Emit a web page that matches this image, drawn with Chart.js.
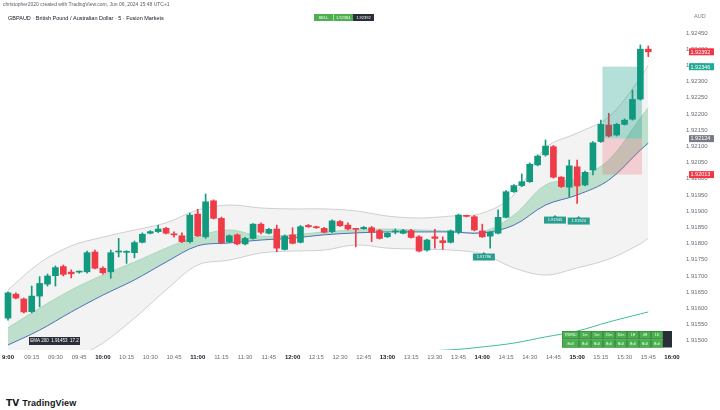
<!DOCTYPE html>
<html><head><meta charset="utf-8">
<script src="https://cdn.jsdelivr.net/npm/chart.js@4.4.1/dist/chart.umd.min.js"></script>
<style>
html,body{margin:0;padding:0;background:#fff;width:720px;height:410px;overflow:hidden;font-family:"Liberation Sans",Arial,sans-serif;}
#wrap{position:absolute;left:0;top:0;width:720px;height:390px;}
#footer{position:absolute;left:0;top:390px;width:720px;height:20px;background:#fff;}
#logo{position:absolute;left:6px;top:8px;font:bold 9px "Liberation Sans",Arial,sans-serif;color:#131722;letter-spacing:0.1px;}
#logo b{font:900 9px "DejaVu Sans",sans-serif;margin-right:3px;}
</style></head><body>
<div id="wrap"><canvas id="c" width="720" height="390"></canvas></div>
<div id="footer"><div id="logo"><b>TV</b>TradingView</div></div>
<script>
// ---- data ----
const timeLabels = ['9:00','09:15','09:30','09:45','10:00','10:15','10:30','10:45','11:00','11:15','11:30','11:45','12:00','12:15','12:30','12:45','13:00','13:15','13:30','13:45','14:00','14:15','14:30','14:45','15:00','15:15','15:30','15:45','16:00'];
const priceTicks = [1.92450,1.92400,1.92350,1.92300,1.92250,1.92200,1.92150,1.92100,1.92050,1.92000,1.91950,1.91900,1.91850,1.91800,1.91750,1.91700,1.91650,1.91600,1.91550,1.91500];

const opens = [1.91570,1.91644,1.91629,1.91590,1.91638,1.91675,1.91701,1.91729,1.91712,1.91712,
1.91713,1.91774,1.91724,1.91713,1.91774,1.91773,1.91772,1.91804,1.91832,1.91837,
1.91847,1.91830,1.91824,1.91806,1.91891,1.91821,1.91932,1.91878,1.91806,1.91827,
1.91799,1.91816,1.91860,1.91832,1.91845,1.91782,1.91827,1.91804,1.91856,1.91852,
1.91847,1.91837,1.91868,1.91857,1.91845,1.91846,1.91849,1.91840,1.91821,1.91836,
1.91832,1.91840,1.91821,1.91780,1.91821,1.91809,1.91804,1.91837,1.91885,1.91883,
1.91839,1.91823,1.91832,1.91881,1.91960,1.91979,1.91991,1.92043,1.92074,1.92099,
1.92005,1.91974,1.92037,1.91981,1.92027,1.92115,1.92166,1.92135,1.92168,1.92184,
1.92246,1.92400];
const highs = [1.91651,1.91648,1.91632,1.91669,1.91698,1.91706,1.91731,1.91734,1.91719,1.91715,
1.91777,1.91780,1.91728,1.91780,1.91816,1.91778,1.91808,1.91833,1.91840,1.91857,
1.91850,1.91836,1.91833,1.91894,1.91906,1.91953,1.91935,1.91882,1.91827,1.91830,
1.91819,1.91862,1.91864,1.91847,1.91857,1.91827,1.91849,1.91856,1.91859,1.91854,
1.91850,1.91873,1.91871,1.91864,1.91847,1.91853,1.91853,1.91844,1.91834,1.91845,
1.91844,1.91844,1.91825,1.91814,1.91844,1.91821,1.91842,1.91891,1.91888,1.91887,
1.91860,1.91837,1.91904,1.91964,1.91982,1.92015,1.92049,1.92074,1.92120,1.92103,
1.92007,1.92058,1.92058,1.92024,1.92115,1.92181,1.92202,1.92171,1.92185,1.92274,
1.92413,1.92410];
const lows = [1.91564,1.91629,1.91586,1.91586,1.91605,1.91669,1.91669,1.91700,1.91694,1.91709,
1.91709,1.91722,1.91706,1.91693,1.91759,1.91739,1.91756,1.91802,1.91830,1.91834,
1.91830,1.91820,1.91803,1.91802,1.91822,1.91816,1.91876,1.91800,1.91803,1.91796,
1.91796,1.91814,1.91830,1.91830,1.91775,1.91780,1.91799,1.91802,1.91850,1.91847,
1.91833,1.91834,1.91853,1.91842,1.91790,1.91844,1.91806,1.91814,1.91819,1.91830,
1.91830,1.91817,1.91774,1.91777,1.91786,1.91782,1.91802,1.91830,1.91882,1.91839,
1.91819,1.91786,1.91830,1.91879,1.91958,1.91976,1.91989,1.92040,1.92070,1.92002,
1.91973,1.91945,1.91924,1.91978,1.92012,1.92112,1.92129,1.92132,1.92166,1.92181,
1.92243,1.92377];
const closes = [1.91648,1.91632,1.91589,1.91638,1.91677,1.91700,1.91726,1.91705,1.91707,1.91714,
1.91772,1.91724,1.91710,1.91772,1.91776,1.91774,1.91803,1.91829,1.91837,1.91845,
1.91832,1.91827,1.91806,1.91888,1.91824,1.91929,1.91878,1.91803,1.91824,1.91799,
1.91816,1.91860,1.91835,1.91844,1.91786,1.91823,1.91801,1.91852,1.91852,1.91849,
1.91835,1.91870,1.91855,1.91845,1.91844,1.91850,1.91835,1.91816,1.91832,1.91837,
1.91840,1.91819,1.91777,1.91811,1.91816,1.91803,1.91839,1.91888,1.91884,1.91842,
1.91821,1.91835,1.91881,1.91960,1.91979,1.91991,1.92045,1.92070,1.92101,1.92005,
1.91976,1.92040,1.91978,1.92020,1.92111,1.92168,1.92132,1.92168,1.92181,1.92245,
1.92400,1.92392];

// indicator readings (bar index -> price)
const indIdx  = [0,4,8,12,16,20,24,28,32,36,40,44,48,52,56,60,64,68,72,76,80,81];
const bbUpper = [1.91657,1.91740,1.91793,1.91820,1.91842,1.91864,1.91904,1.91919,1.91910,1.91907,1.91907,1.91901,1.91885,1.91879,1.91885,1.91894,1.91950,1.92095,1.92141,1.92191,1.92311,1.92351];
const bbLower = [1.91317,1.91394,1.91441,1.91493,1.91570,1.91657,1.91734,1.91749,1.91771,1.91777,1.91780,1.91796,1.91786,1.91783,1.91780,1.91768,1.91725,1.91703,1.91725,1.91752,1.91799,1.91817];
const emaFast = [1.91540,1.91601,1.91657,1.91703,1.91743,1.91786,1.91823,1.91842,1.91823,1.91827,1.91836,1.91842,1.91845,1.91842,1.91839,1.91836,1.91888,1.91981,1.92002,1.92058,1.92188,1.92219];
const emaSlow = [1.91487,1.91533,1.91589,1.91641,1.91688,1.91743,1.91793,1.91802,1.91811,1.91817,1.91827,1.91833,1.91836,1.91836,1.91836,1.91833,1.91857,1.91919,1.91950,1.91996,1.92089,1.92110];
const emaLongIdx = [44,49,56,60,64,68,72,76,80,81];
const emaLong    = [1.91453,1.91465,1.91472,1.91481,1.91493,1.91512,1.91530,1.91558,1.91583,1.91589];

// long position tool
const posBars   = [75.2, 80.2];
const posPrices = [1.92346, 1.92124, 1.92013]; // target, entry, stop
// price-scale tags
const tagPrices = [1.92392, 1.92346, 1.92124, 1.92013];
const tagColors = ['#f23645','#22ab94','#787b86','#f23645'];
// small labels under candles
const noteBars   = [60.2, 69.2, 72.2];
const notePrices = [1.91774, 1.91888, 1.91885];
const noteTexts  = ['1.91786','1.91945','1.91924'];
// table bottom right
const tableHead = ['TREND','1m','5m','15m','30m','1H','4H','1D'];
const tableRow  = ['Bull','Bull','Bull','Bull','Bull','Bull','Bull','Bull'];

const GREEN = '#129a7f', RED = '#ef3a48';
const candleColors = opens.map((o,i)=> closes[i] >= o ? GREEN : RED);
const pts = (idx, arr) => arr.map((v,i)=>({x:idx[i], y:v}));

const overlay = {
  id:'overlay',
  afterDatasetsDraw(chart){
    const c = chart.ctx, xs = chart.scales.x, ys = chart.scales.y, a = chart.chartArea;
    c.save();
    c.beginPath(); c.rect(a.left, a.top, a.right-a.left, a.bottom-a.top); c.clip();
    // position tool
    const x1 = xs.getPixelForValue(posBars[0]), x2 = xs.getPixelForValue(posBars[1]);
    const yT = ys.getPixelForValue(posPrices[0]), yE = ys.getPixelForValue(posPrices[1]), yS = ys.getPixelForValue(posPrices[2]);
    c.fillStyle = 'rgba(8,153,129,0.30)'; c.fillRect(x1, yT, x2-x1, yE-yT);
    c.fillStyle = 'rgba(242,54,69,0.20)'; c.fillRect(x1, yE, x2-x1, yS-yE);
    // note labels
    c.font = '4px "Liberation Sans", Arial, sans-serif';
    c.textAlign = 'center'; c.textBaseline = 'middle';
    noteBars.forEach((b,i)=>{
      const x = xs.getPixelForValue(b), y = ys.getPixelForValue(notePrices[i]);
      c.fillStyle = '#2a9d8f';
      c.beginPath(); c.moveTo(x-2,y+2); c.lineTo(x,y); c.lineTo(x+2,y+2); c.fill();
      c.fillRect(x-11, y+1.5, 22, 7);
      c.fillStyle = '#fff'; c.fillText(noteTexts[i], x, y+5);
    });
    c.restore();
    // dark label bottom-left
    c.save();
    c.fillStyle = '#2a2e39'; c.fillRect(29, 337, 51, 8);
    c.fillStyle = '#fff'; c.font = '4.5px "Liberation Sans", Arial, sans-serif';
    c.textAlign='center'; c.textBaseline='middle';
    c.fillText('EMA 200  1.91453  17.2', 54.5, 341.2);
    // table
    const colW = [17,12,12,12,12,12,12,12];
    let x = 562;
    colW.forEach((w,i)=>{
      c.fillStyle = '#4caf50'; c.fillRect(x, 331, w, 8); c.fillRect(x, 339.5, w, 8);
      c.strokeStyle = '#2e7d32'; c.lineWidth = 0.5;
      c.strokeRect(x+0.25, 331.25, w-0.5, 7.5); c.strokeRect(x+0.25, 339.75, w-0.5, 7.5);
      c.fillStyle = '#eaffea'; c.font = '3.5px "Liberation Sans", Arial, sans-serif';
      c.fillText(tableHead[i], x+w/2, 335.2); c.fillText(tableRow[i], x+w/2, 343.7);
      x += w;
    });
    c.fillStyle = '#2a2e39'; c.fillRect(x, 331, 9, 16.5);
    c.restore();
  },
  afterDraw(chart){
    const c = chart.ctx, ys = chart.scales.y;
    c.save();
    // price tags
    c.font = '5.5px "Liberation Sans", Arial, sans-serif';
    c.textAlign='left'; c.textBaseline='middle';
    tagPrices.forEach((p,i)=>{
      const y = ys.getPixelForValue(p);
      c.fillStyle = tagColors[i]; c.fillRect(689, y-3.5, 25, 7);
      c.fillStyle = '#fff'; c.fillText(p.toFixed(5), 690.5, y+0.3);
    });
    c.fillStyle = '#787b86'; c.font = '5.5px "Liberation Sans", Arial, sans-serif';
    c.fillText('AUD', 694, 16);
    // header texts
    c.fillStyle = '#5d606b'; c.font = '5px "Liberation Sans", Arial, sans-serif';
    c.fillText('christopher2020 created with TradingView.com, Jun 06, 2024 15:48 UTC+1', 3, 5);
    c.fillStyle = '#131722'; c.font = '5.5px "Liberation Sans", Arial, sans-serif';
    c.fillText('GBPAUD · British Pound / Australian Dollar · 5 · Fusion Markets', 8, 18.5);
    // buy / sell buttons
    c.fillStyle = '#4caf50'; c.fillRect(314, 14, 19, 7); c.fillRect(333.5, 14, 19.5, 7);
    c.fillStyle = '#2a2e39'; c.fillRect(353, 14, 21, 7);
    c.fillStyle = '#fff'; c.font = '4px "Liberation Sans", Arial, sans-serif'; c.textAlign='center';
    c.fillText('SELL', 323.5, 17.6); c.fillText('1.92384', 343.2, 17.6); c.fillText('1.92392', 363.5, 17.6);
    c.restore();
  }
};

new Chart(document.getElementById('c'), {
  data: {
    datasets: [
      {type:'line', data:pts(indIdx,bbUpper), borderColor:'#c4c4c4', borderWidth:0.8, pointRadius:0, tension:0.35, fill:'+1', backgroundColor:'#f3f3f4', order:10},
      {type:'line', data:pts(indIdx,bbLower), borderColor:'#c4c4c4', borderWidth:0.8, pointRadius:0, tension:0.35, fill:false, order:9},
      {type:'line', data:pts(indIdx,emaFast), borderColor:'#9fd3b2', borderWidth:0.8, pointRadius:0, tension:0.35, fill:'+1', backgroundColor:'rgba(120,195,150,0.42)', order:8},
      {type:'line', data:pts(indIdx,emaSlow), borderColor:'#4a72b8', borderWidth:1, pointRadius:0, tension:0.35, fill:false, order:7},
      {type:'line', data:pts(emaLongIdx,emaLong), borderColor:'#3fbf8a', borderWidth:1, pointRadius:0, tension:0.35, fill:false, order:6},
      {type:'bar', data:lows.map((l,i)=>({x:i, y:[l, highs[i]]})), backgroundColor:candleColors, barThickness:1, grouped:false, minBarLength:1, order:2},
      {type:'bar', data:opens.map((o,i)=>({x:i, y:[o, closes[i]]})), backgroundColor:candleColors, barThickness:6, grouped:false, minBarLength:1, order:1}
    ]
  },
  options: {
    responsive:false, animation:false, devicePixelRatio:1,
    layout:{padding:{top:25, bottom:25, left:0, right:0}},
    plugins:{legend:{display:false}, tooltip:{enabled:false}},
    scales:{
      x:{type:'linear', position:'bottom', min:-1.012, max:84.76, offset:false,
         grid:{display:false, drawTicks:false}, border:{display:false},
         afterBuildTicks: s => { s.ticks = timeLabels.map((t,i)=>({value:i*3})); },
         afterFit: s => { s.height = 15; s.paddingLeft = 0; s.paddingRight = 0; },
         ticks:{autoSkip:false, maxRotation:0, padding:4,
           callback:(v,i)=> timeLabels[i],
           color: ctx => (ctx.index % 4 === 0) ? '#131722' : '#6a6d78',
           font: ctx => ({family:'"Liberation Sans", Arial, sans-serif', size:6, weight:(ctx.index % 4 === 0) ? 'bold' : 'normal'})}},
      y:{type:'linear', position:'right', min:1.914716, max:1.924747,
         grid:{display:false, drawTicks:false}, border:{display:false},
         afterBuildTicks: s => { s.ticks = priceTicks.map(v=>({value:v})); },
         afterFit: s => { s.width = 42; },
         ticks:{padding:8, color:'#6a6d78', callback:v=>v.toFixed(5),
           font:{family:'"Liberation Sans", Arial, sans-serif', size:6}}}
    }
  },
  plugins:[overlay]
});
</script>
</body></html>
